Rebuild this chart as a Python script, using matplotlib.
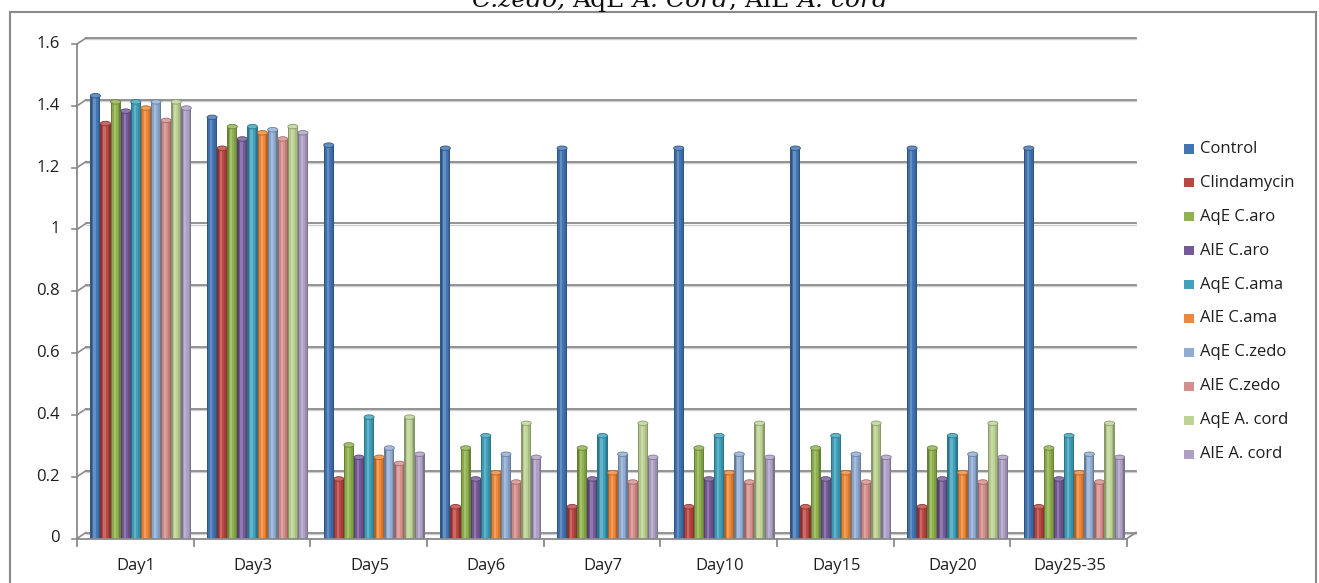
import numpy as np
import matplotlib
matplotlib.use("Agg")
import matplotlib.pyplot as plt
from matplotlib.patches import Ellipse, Rectangle
from matplotlib.collections import PatchCollection
from matplotlib.lines import Line2D
from matplotlib.colors import to_rgb

# ---- data -------------------------------------------------------------
days = ["Day1", "Day3", "Day5", "Day6", "Day7", "Day10", "Day15", "Day20", "Day25-35"]
series_names = ["Control", "Clindamycin", "AqE C.aro", "AlE C.aro", "AqE C.ama",
                "AlE C.ama", "AqE C.zedo", "AlE C.zedo", "AqE A. cord", "AlE A. cord"]

control     = [1.44, 1.37, 1.28, 1.27, 1.27, 1.27, 1.27, 1.27, 1.27]
clindamycin = [1.35, 1.27, 0.20, 0.11, 0.11, 0.11, 0.11, 0.11, 0.11]
aqe_c_aro   = [1.42, 1.34, 0.31, 0.30, 0.30, 0.30, 0.30, 0.30, 0.30]
ale_c_aro   = [1.39, 1.30, 0.27, 0.20, 0.20, 0.20, 0.20, 0.20, 0.20]
aqe_c_ama   = [1.42, 1.34, 0.40, 0.34, 0.34, 0.34, 0.34, 0.34, 0.34]
ale_c_ama   = [1.40, 1.32, 0.27, 0.22, 0.22, 0.22, 0.22, 0.22, 0.22]
aqe_c_zedo  = [1.42, 1.33, 0.30, 0.28, 0.28, 0.28, 0.28, 0.28, 0.28]
ale_c_zedo  = [1.36, 1.30, 0.25, 0.19, 0.19, 0.19, 0.19, 0.19, 0.19]
aqe_a_cord  = [1.42, 1.34, 0.40, 0.38, 0.38, 0.38, 0.38, 0.38, 0.38]
ale_a_cord  = [1.40, 1.32, 0.28, 0.27, 0.27, 0.27, 0.27, 0.27, 0.27]

y_ticks = [0, 0.2, 0.4, 0.6, 0.8, 1, 1.2, 1.4, 1.6]
y_tick_labels = ["0", "0.2", "0.4", "0.6", "0.8", "1", "1.2", "1.4", "1.6"]

series_values = [control, clindamycin, aqe_c_aro, ale_c_aro, aqe_c_ama,
                 ale_c_ama, aqe_c_zedo, ale_c_zedo, aqe_a_cord, ale_a_cord]
colors = ["#4275B2", "#BB4643", "#8FB24E", "#755A99", "#40A1BB",
          "#EF8838", "#90ACD3", "#D68E8C", "#BDD394", "#ADA0C4"]

# ---- figure geometry ---------------------------------------------------
W, H = 1319, 583
fig = plt.figure(figsize=(W / 100, H / 100), dpi=100)
font = "Open Sans"
txt_size = 12
grey = "#8a8a8a"
txt_col = "#1e1e1e"

def fx(px):
    return px / W

def fy(py):
    return 1 - py / H

# outer chart frame
fig.add_artist(Line2D([fx(10), fx(10)], [fy(583), fy(12)], color=grey, lw=1.5))
fig.add_artist(Line2D([fx(1316), fx(1316)], [fy(583), fy(12)], color=grey, lw=1.5))
fig.add_artist(Line2D([fx(10), fx(1316)], [fy(12), fy(12)], color=grey, lw=1.5))

ax_left, ax_right = 77, 1127
ax_zero, ax_top = 538.5, 44
ax = fig.add_axes([fx(ax_left), fy(ax_zero), (ax_right - ax_left) / W, (ax_zero - ax_top) / H])
ax.set_xlim(-0.5, len(days) - 0.5)
ax.set_ylim(0, 1.6)
ax.set_autoscale_on(False)
ax.axis("off")

px_x = (ax_right - ax_left) / len(days)          # pixels per category
px_y = (ax_zero - ax_top) / 1.6                  # pixels per unit
dx = 9 / px_x                                    # depth offset of back wall
dy = 6 / px_y
x0, x1 = -0.5, len(days) - 0.5

# back wall gridlines, side wall connectors and value ticks
for v, lab in zip(y_ticks, y_tick_labels):
    ax.plot([x0 + dx, x1 + dx], [v + dy - 1.2 / px_y] * 2, color="#cfcfcf", lw=1.0,
            clip_on=False, zorder=1)
    ax.plot([x0 + dx, x1 + dx], [v + dy, v + dy], color=grey, lw=1.3,
            clip_on=False, zorder=1)
    ax.plot([x0, x0 + dx], [v, v + dy], color=grey, lw=1.2, clip_on=False, zorder=1)
    ax.plot([x0 - 5 / px_x, x0], [v, v], color=grey, lw=1.2, clip_on=False, zorder=1)
    ax.text(x0 - 17 / px_x, v, lab, ha="right", va="center",
            fontsize=txt_size, family=font, color=txt_col)

# value axis line and floor
ax.plot([x0, x0], [0, 1.6], color=grey, lw=1.3, clip_on=False, zorder=1)
ax.plot([x0, x1], [0, 0], color=grey, lw=1.3, clip_on=False, zorder=5)
ax.plot([x1, x1 + dx], [0, dy], color=grey, lw=1.3, clip_on=False, zorder=1)
for i in range(len(days) + 1):
    ax.plot([x0 + i, x0 + i], [0, -7 / px_y], color=grey, lw=1.3, clip_on=False, zorder=1)
for i, d in enumerate(days):
    ax.text(i + 1 / px_x, -27 / px_y, d, ha="center", va="center",
            fontsize=txt_size, family=font, color=txt_col)

# cylinder shading: the bar is split into a few vertical bands
band_edges = np.array([0.0, 0.14, 0.30, 0.52, 0.72, 0.88, 1.0])
band_f = np.array([0.72, 0.95, 1.12, 1.0, 0.88, 0.72])

def shade(rgb, f):
    rgb = np.array(rgb)
    if f >= 1:
        return np.clip(rgb + (1 - rgb) * (f - 1) * 1.6, 0, 1)
    return np.clip(rgb * f, 0, 1)

n_series = len(series_values)
bw = 10.1 / px_x
shift = 5.5 / px_x
cap_h = 4.5 / px_y
for j, (vals, col) in enumerate(zip(series_values, colors)):
    rgb = to_rgb(col)
    band_cols = [shade(rgb, f) for f in band_f]
    rects, fcs = [], []
    for i, v in enumerate(vals):
        xc = i + shift + (j - (n_series - 1) / 2) * bw
        xa = xc - bw / 2
        top = v - cap_h / 2          # the cap's upper rim sits at the value
        rects.append(Rectangle((xa, 0), bw, top))
        fcs.append(shade(rgb, 0.9))
        for k in range(len(band_f)):
            a, b = band_edges[k] * bw, band_edges[k + 1] * bw
            rects.append(Rectangle((xa + a, 0), b - a, top))
            fcs.append(band_cols[k])
        ax.add_patch(Ellipse((xc, top), bw, cap_h, facecolor=shade(rgb, 1.12),
                             edgecolor=shade(rgb, 0.75), lw=0.6,
                             zorder=3.5 + j * 0.01, clip_on=False))
    pc = PatchCollection(rects, facecolors=fcs, edgecolors="none", linewidths=0,
                         zorder=3 + j * 0.01, clip_on=False)
    ax.add_collection(pc)
ax.set_xlim(x0, x1)
ax.set_ylim(0, 1.6)

# legend
leg_y0, leg_step = 149, 33.9
for k, (name, col) in enumerate(zip(series_names, colors)):
    yc = leg_y0 + k * leg_step
    fig.add_artist(Rectangle((fx(1184), fy(yc + 4.5)), 10 / W, 9 / H,
                             facecolor=col, edgecolor="none"))
    fig.text(fx(1200), fy(yc), name, ha="left", va="center",
             fontsize=txt_size, family=font, color=txt_col)

# title (only its lower part is inside the canvas)
title_parts = [("C.zedo, ", "italic"), ("AqE ", "normal"), ("A. Cord", "italic"),
               (", AlE ", "normal"), ("A. cord", "italic")]
renderer = fig.canvas.get_renderer()
title_size = 18
pieces = []
total = 0
for s, style in title_parts:
    t = fig.text(0, 0, s, fontsize=title_size, family="DejaVu Serif", style=style)
    w = t.get_window_extent(renderer).width
    t.remove()
    pieces.append((s, style, w))
    total += w
xpos = 680 - total / 2
for s, style, w in pieces:
    fig.text(fx(xpos), fy(7), s, fontsize=title_size, family="DejaVu Serif",
             style=style, va="baseline", ha="left", color="#111111")
    xpos += w

fig.savefig("out.png", dpi=100)
